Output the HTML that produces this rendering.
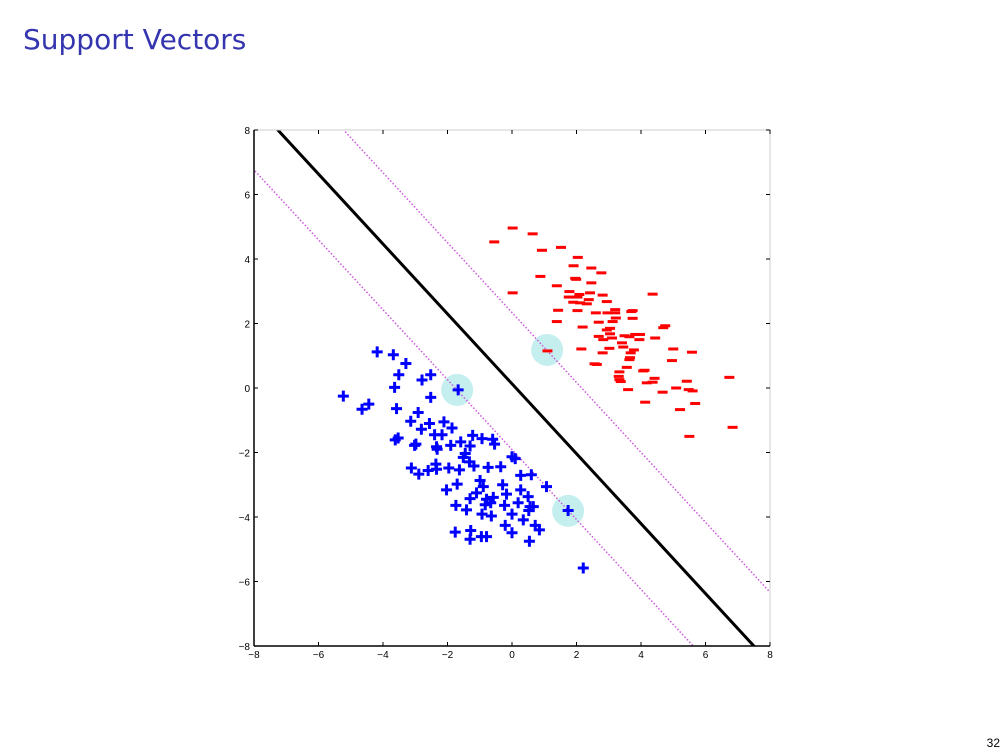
<!DOCTYPE html>
<html><head><meta charset="utf-8"><style>
body{margin:0;width:1008px;height:756px;background:#fff;overflow:hidden;position:relative;font-family:"Liberation Sans","DejaVu Sans",sans-serif}
#title{position:absolute;left:23px;top:23px;font-size:28px;color:#3535b0;font-family:"DejaVu Sans","Liberation Sans",sans-serif}
#pnum{position:absolute;right:8px;top:736px;font-size:12px;color:#000}
svg{position:absolute;left:0;top:0}
</style></head><body>
<div id="title">Support Vectors</div>
<div id="pnum">32</div>
<svg id="chart" width="1008" height="756"></svg>
<script>
const ticks=[-8,-6,-4,-2,0,2,4,6,8];
const redX=[0.02,0.64,-0.55,0.93,1.52,2.04,1.91,2.46,2.77,0.88,1.96,1.99,2.46,1.39,0.02,1.78,1.76,2.09,2.42,2.81,2.03,2.38,1.90,2.11,2.32,2.94,4.36,1.43,2.03,2.60,2.96,3.20,3.20,3.74,3.70,1.39,2.69,3.12,3.22,3.74,2.19,3.04,2.94,4.75,4.69,3.04,2.69,2.83,3.10,3.49,3.64,3.82,3.97,3.95,4.44,3.41,2.15,3.02,3.45,3.78,2.81,3.68,5.00,5.58,3.66,3.64,4.96,2.63,2.56,3.56,4.11,4.07,3.33,3.31,3.33,3.37,4.42,4.18,4.36,5.42,3.60,5.09,4.67,5.48,5.60,6.74,4.13,5.68,5.21,6.84,5.50,1.10];
const redY=[4.96,4.78,4.53,4.27,4.36,4.05,3.79,3.72,3.57,3.46,3.40,3.37,3.26,3.17,2.95,2.99,2.82,2.90,2.95,2.88,2.82,2.74,2.66,2.64,2.61,2.68,2.91,2.41,2.40,2.33,2.33,2.43,2.33,2.40,2.37,2.06,2.04,2.06,2.17,2.16,1.89,1.85,1.80,1.93,1.87,1.68,1.60,1.50,1.55,1.62,1.59,1.66,1.66,1.50,1.55,1.40,1.21,1.23,1.27,1.18,1.09,1.09,1.21,1.11,0.94,0.88,0.85,0.73,0.75,0.64,0.55,0.53,0.50,0.36,0.26,0.20,0.30,0.16,0.18,0.21,-0.05,0.00,-0.13,-0.05,-0.09,0.33,-0.44,-0.48,-0.67,-1.22,-1.50,1.15];
const blueX=[-4.18,-3.68,-3.29,-3.51,-2.79,-2.52,-3.64,-5.23,-4.44,-4.65,-2.52,-1.67,-3.58,-2.91,-3.14,-2.56,-2.81,-2.11,-1.86,-2.40,-2.17,-3.53,-3.62,-2.98,-3.02,-2.34,-2.32,-1.90,-1.59,-1.22,-0.93,-0.60,-0.54,-1.30,-1.45,-1.51,-1.32,-1.18,-0.74,-0.35,0.00,0.10,-3.12,-2.89,-2.60,-2.36,-2.34,-1.96,-1.63,0.27,0.60,1.07,-2.03,-1.70,-0.99,-0.89,-1.10,-0.29,-0.17,0.27,0.50,-1.30,-0.79,-0.58,-0.83,-0.66,-0.23,0.19,0.56,0.52,0.66,-1.74,-1.41,-0.93,-0.64,0.00,0.35,-0.21,0.00,0.72,0.85,-1.76,-1.28,-1.30,-0.95,-0.79,0.54,1.74,2.21];
const blueY=[1.12,1.03,0.76,0.41,0.25,0.41,0.02,-0.25,-0.50,-0.66,-0.29,-0.06,-0.64,-0.76,-1.03,-1.10,-1.28,-1.05,-1.24,-1.45,-1.45,-1.55,-1.61,-1.74,-1.78,-1.82,-1.90,-1.78,-1.67,-1.47,-1.57,-1.59,-1.74,-1.80,-2.03,-2.15,-2.29,-2.42,-2.46,-2.44,-2.13,-2.19,-2.48,-2.67,-2.56,-2.36,-2.52,-2.48,-2.54,-2.71,-2.69,-3.06,-3.16,-2.98,-2.87,-3.06,-3.25,-3.00,-3.29,-3.16,-3.37,-3.43,-3.45,-3.39,-3.62,-3.56,-3.64,-3.56,-3.68,-3.80,-3.68,-3.64,-3.78,-3.91,-3.97,-3.91,-4.09,-4.26,-4.49,-4.26,-4.40,-4.47,-4.42,-4.69,-4.61,-4.61,-4.75,-3.80,-5.58];
const svX=[1.09,-1.70,1.74];
const svY=[1.18,-0.06,-3.81];
const lineSlope=-1.084;
const lineIntercepts=[0.13,2.34,-1.91];

const NS='http://www.w3.org/2000/svg';
const svg=document.getElementById('chart');
const L=254,R=770,T=130,B=646;
const sx=v=>L+(v+8)/16*(R-L);
const sy=v=>B-(v+8)/16*(B-T);
function mk(tag,a,parent){const e=document.createElementNS(NS,tag);for(const k in a)e.setAttribute(k,a[k]);(parent||svg).appendChild(e);return e;}
const clip=mk('clipPath',{id:'pc'});mk('rect',{x:L,y:T,width:R-L,height:B-T},clip);
const g=mk('g',{'clip-path':'url(#pc)'});
let fr=mk('rect',{x:L,y:T,width:R-L,height:B-T,fill:'none',stroke:'#ccc','stroke-width':1});


mk('line',{x1:L,y1:T,x2:L,y2:B,stroke:'#000','stroke-width':1.5});
mk('line',{x1:L,y1:B,x2:R,y2:B,stroke:'#000','stroke-width':1.5});
svX.forEach((x,i)=>{
  const c=mk('circle',{cx:sx(x),cy:sy(svY[i]),r:16,fill:'#7fdcdc','fill-opacity':0.45},g);
  
  
});
lineIntercepts.forEach((b,i)=>{
  const l=mk('line',{x1:sx(-9),y1:sy(lineSlope*-9+b),x2:sx(9),y2:sy(lineSlope*9+b),
    stroke:i==0?'#000':'#cc55dd','stroke-width':i==0?3:1.5,'stroke-dasharray':i==0?'none':'1.5 2'},g);
  
  
});
redX.forEach((x,i)=>{
  const r=mk('rect',{x:sx(x)-5,y:sy(redY[i])-1.5,width:10,height:3,fill:'#f00'},g);
  
  
});
blueX.forEach((x,i)=>{
  const X=sx(x),Y=sy(blueY[i]);
  const p=mk('path',{d:`M${X-5.5} ${Y}H${X+5.5}M${X} ${Y-5.5}V${Y+5.5}`,stroke:'#0000ff','stroke-width':3,fill:'none'},g);
  
  
});
ticks.forEach(t=>{
  const lab=(t<0?'\u2212':'')+Math.abs(t);
  mk('line',{x1:sx(t),y1:B,x2:sx(t),y2:B-4,stroke:'#000','stroke-width':1});
  mk('line',{x1:sx(t),y1:T,x2:sx(t),y2:T+4,stroke:'#000','stroke-width':1});
  mk('line',{x1:L,y1:sy(t),x2:L+4,y2:sy(t),stroke:'#000','stroke-width':1});
  mk('line',{x1:R,y1:sy(t),x2:R-4,y2:sy(t),stroke:'#000','stroke-width':1});
  const tx=mk('text',{x:sx(t),y:B+12,'font-size':10,'text-anchor':'middle',fill:'#000'});
  tx.textContent=lab;
  
  
  const ty=mk('text',{x:L-4,y:sy(t)+4,'font-size':10,'text-anchor':'end',fill:'#000'});
  ty.textContent=lab;
  
  
});
</script>
</body></html>
